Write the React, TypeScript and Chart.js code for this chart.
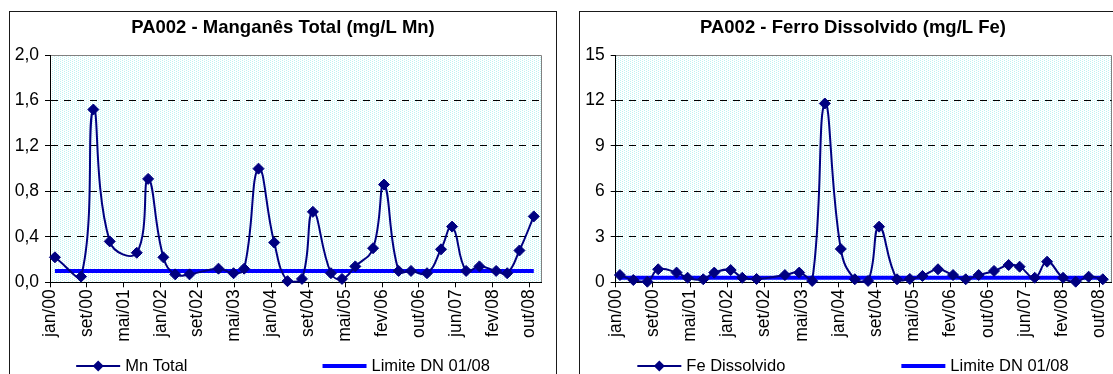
import React, { useEffect, useRef } from "react";
import { Chart, registerables } from "chart.js";

Chart.register(...registerables);

// ---------- data ----------
const X_TICK_LABELS = [
  "jan/00", "set/00", "mai/01", "jan/02", "set/02", "mai/03", "jan/04",
  "set/04", "mai/05", "fev/06", "out/06", "jun/07", "fev/08", "out/08",
];
const X_AXIS_START = "2000-01-01";
const X_TICK_STEP_DAYS = 247;
const X_AXIS_END_DAYS = 3292;

const MN_TITLE = "PA002 - Manganês Total (mg/L Mn)";
const MN_LABEL = "Mn Total";
const MN_DATES = [
  "2000-02-03", "2000-07-27", "2000-10-17", "2001-02-04", "2001-08-04", "2001-10-19",
  "2002-01-29", "2002-04-18", "2002-07-23", "2003-02-02", "2003-05-14", "2003-07-24",
  "2003-10-28", "2004-02-10", "2004-05-09", "2004-08-14", "2004-10-26", "2005-02-24",
  "2005-05-09", "2005-08-06", "2005-12-03", "2006-02-14", "2006-05-23", "2006-08-14",
  "2006-11-29", "2007-03-03", "2007-05-16", "2007-08-18", "2007-11-15", "2008-03-06",
  "2008-05-19", "2008-08-09", "2008-11-13",
];
const MN_VALUES = [
  0.22, 0.05, 1.52, 0.36, 0.26, 0.91, 0.22, 0.07, 0.07, 0.12, 0.08, 0.12,
  1.0, 0.35, 0.01, 0.03, 0.62, 0.08, 0.03, 0.14, 0.3, 0.86, 0.1, 0.1,
  0.08, 0.29, 0.49, 0.1, 0.14, 0.1, 0.08, 0.28, 0.58,
];
const MN_LIMIT = 0.1;
const MN_Y_MAX = 2;
const MN_Y_STEP = 0.4;

const FE_TITLE = "PA002 - Ferro Dissolvido (mg/L Fe)";
const FE_LABEL = "Fe Dissolvido";
const FE_DATES = [
  "2000-01-29", "2000-04-27", "2000-07-29", "2000-10-09", "2001-02-08", "2001-04-22",
  "2001-08-04", "2001-10-16", "2002-02-02", "2002-04-20", "2002-07-24", "2003-01-28",
  "2003-05-03", "2003-07-28", "2003-10-20", "2004-02-03", "2004-05-06", "2004-08-02",
  "2004-10-14", "2005-02-10", "2005-05-06", "2005-07-29", "2005-11-09", "2006-02-17",
  "2006-05-12", "2006-08-06", "2006-11-16", "2007-02-21", "2007-05-05", "2007-08-13",
  "2007-11-03", "2008-02-17", "2008-05-11", "2008-08-05", "2008-11-07",
];
const FE_VALUES = [
  0.48, 0.15, 0.04, 0.86, 0.64, 0.3, 0.2, 0.64, 0.81, 0.3, 0.22, 0.48,
  0.64, 0.09, 11.8, 2.2, 0.2, 0.09, 3.67, 0.2, 0.22, 0.42, 0.86, 0.48,
  0.2, 0.48, 0.75, 1.14, 1.03, 0.3, 1.36, 0.3, 0.04, 0.37, 0.2,
];
const FE_LIMIT = 0.3;
const FE_Y_MAX = 15;
const FE_Y_STEP = 3;

const LIMIT_LABEL = "Limite DN 01/08";

// ---------- style ----------
const FONT = "'Liberation Sans', Arial, Helvetica, sans-serif";
const SERIES_COLOR = "#000080";
const LIMIT_COLOR = "#0000ff";
const CANVAS_W = 546;
const CANVAS_H = 362;
const PLOT_RIGHT_GAP = 14.3;
const LEGEND_BAND = 30;
const PLOT_BOTTOM = 270.3;

const dayOf = (d: string) =>
  (Date.parse(d + "T00:00:00Z") - Date.parse(X_AXIS_START + "T00:00:00Z")) / 86400000;

function makePattern(ctx: CanvasRenderingContext2D) {
  const c = document.createElement("canvas");
  c.width = 4;
  c.height = 4;
  const p = c.getContext("2d")!;
  p.fillStyle = "#ffffff";
  p.fillRect(0, 0, 4, 4);
  p.fillStyle = "#bff3f3";
  p.fillRect(0, 0, 1, 1);
  p.fillRect(2, 1, 1, 1);
  p.fillRect(0, 2, 1, 1);
  p.fillRect(2, 3, 1, 1);
  return ctx.createPattern(c, "repeat");
}

const plotAreaPlugin = {
  id: "plotArea",
  beforeDraw(chart: any) {
    const { ctx, chartArea: a } = chart;
    ctx.save();
    ctx.fillStyle = makePattern(ctx) || "#effcfc";
    ctx.fillRect(a.left, a.top, a.right - a.left, a.bottom - a.top);
    ctx.strokeStyle = "#808080";
    ctx.lineWidth = 1;
    ctx.beginPath();
    ctx.moveTo(a.left, Math.round(a.top) + 0.5);
    ctx.lineTo(Math.round(a.right) - 0.5, Math.round(a.top) + 0.5);
    ctx.lineTo(Math.round(a.right) - 0.5, a.bottom);
    ctx.stroke();
    ctx.restore();
  },
};

const legendPlugin = {
  id: "excelLegend",
  afterDraw(chart: any, _args: any, opts: any) {
    const { ctx } = chart;
    const ds = chart.data.datasets;
    ctx.save();
    ctx.font = `16.5px ${FONT}`;
    const lineLen = 44;
    const textGap = 5;
    const widths = ds.map((d: any) => lineLen + textGap + ctx.measureText(d.label).width);
    const total = widths.reduce((s: number, w: number) => s + w, 0) + opts.gap * (ds.length - 1);
    let x = (chart.width - total) / 2;
    const y = opts.y;
    ds.forEach((d: any, i: number) => {
      ctx.strokeStyle = d.borderColor;
      ctx.lineWidth = d.borderWidth;
      ctx.beginPath();
      ctx.moveTo(x, y);
      ctx.lineTo(x + lineLen, y);
      ctx.stroke();
      if (d.pointRadius > 0) {
        const cx = x + lineLen / 2;
        const r = d.pointRadius;
        ctx.fillStyle = d.pointBackgroundColor;
        ctx.beginPath();
        ctx.moveTo(cx, y - r);
        ctx.lineTo(cx + r, y);
        ctx.lineTo(cx, y + r);
        ctx.lineTo(cx - r, y);
        ctx.closePath();
        ctx.fill();
      }
      ctx.fillStyle = "#000";
      ctx.textBaseline = "middle";
      ctx.textAlign = "left";
      ctx.fillText(d.label, x + lineLen + textGap, y);
      x += widths[i] + opts.gap;
    });
    ctx.restore();
  },
};

type Spec = {
  title: string;
  label: string;
  dates: string[];
  values: number[];
  limit: number;
  yMax: number;
  yStep: number;
  yFmt: (v: number) => string;
  yAxisWidth: number;
  legendGap: number;
};

function buildConfig(s: Spec): any {
  const pts = s.dates.map((d, i) => ({ x: dayOf(d), y: s.values[i] }));
  const first = pts[0].x;
  const last = pts[pts.length - 1].x;
  const tickFont = { family: FONT, size: 17.5 };
  return {
    type: "line",
    data: {
      datasets: [
        {
          label: s.label,
          data: pts,
          borderColor: SERIES_COLOR,
          backgroundColor: SERIES_COLOR,
          borderWidth: 2,
          tension: 0.45,
          pointStyle: "rectRot",
          pointRadius: 5.5,
          pointBackgroundColor: SERIES_COLOR,
          pointBorderColor: SERIES_COLOR,
          pointBorderWidth: 1,
          clip: false,
          order: 1,
        },
        {
          label: LIMIT_LABEL,
          data: [
            { x: first, y: s.limit },
            { x: last, y: s.limit },
          ],
          borderColor: LIMIT_COLOR,
          backgroundColor: LIMIT_COLOR,
          borderWidth: 4,
          pointRadius: 0,
          tension: 0,
          clip: false,
          order: 2,
        },
      ],
    },
    options: {
      responsive: false,
      animation: false,
      events: [],
      layout: { padding: { left: 0, right: 0, top: 0, bottom: LEGEND_BAND } },
      plugins: {
        legend: { display: false },
        tooltip: { enabled: false },
        title: {
          display: true,
          text: s.title,
          color: "#000",
          font: { family: FONT, size: 18.5, weight: "bold", lineHeight: 1.2 },
          padding: { top: 4.9, bottom: 15.9 },
        },
        excelLegend: { gap: s.legendGap, y: 354 },
      },
      scales: {
        x: {
          type: "linear",
          min: 0,
          max: X_AXIS_END_DAYS,
          afterBuildTicks: (sc: any) => {
            sc.ticks = X_TICK_LABELS.map((_, i) => ({ value: i * X_TICK_STEP_DAYS }));
          },
          afterFit: (sc: any) => {
            sc.height = CANVAS_H - LEGEND_BAND - PLOT_BOTTOM;
          },
          ticks: {
            autoSkip: false,
            minRotation: 90,
            maxRotation: 90,
            padding: 2,
            color: "#000",
            font: tickFont,
            callback: (v: number) => X_TICK_LABELS[Math.round(v / X_TICK_STEP_DAYS)] ?? "",
          },
          grid: {
            drawOnChartArea: false,
            tickLength: 5,
            tickColor: "#000",
            color: "#000",
            lineWidth: 1,
          },
          border: { display: true, color: "#000", width: 1 },
        },
        y: {
          type: "linear",
          position: "left",
          min: 0,
          max: s.yMax,
          afterFit: (sc: any) => {
            sc.width = s.yAxisWidth;
          },
          ticks: {
            stepSize: s.yStep,
            padding: 6,
            color: "#000",
            font: tickFont,
            callback: (v: number) => s.yFmt(v),
          },
          grid: {
            color: (c: any) =>
              c.tick && (Math.abs(c.tick.value) < 1e-9 || c.tick.value >= s.yMax - 1e-9)
                ? "rgba(0,0,0,0)"
                : "#000",
            lineWidth: 1,
            tickLength: 5,
            tickColor: "#000",
            tickWidth: 1,
            tickBorderDash: [],
          },
          border: { display: true, color: "#000", width: 1, dash: [7, 6] },
        },
        // empty spacer on the right so the title stays centred on the whole box
        spacer: {
          type: "linear",
          position: "right",
          display: true,
          min: 0,
          max: 1,
          ticks: { display: false },
          grid: { display: false, drawOnChartArea: false, drawTicks: false },
          border: { display: false },
          afterFit: (sc: any) => {
            sc.width = PLOT_RIGHT_GAP;
          },
        },
      },
    },
    plugins: [plotAreaPlugin, legendPlugin],
  };
}

function ChartBox({ left, spec }: { left: number; spec: Spec }) {
  const ref = useRef<HTMLCanvasElement>(null);
  useEffect(() => {
    const chart = new Chart(ref.current!, buildConfig(spec));
    return () => chart.destroy();
  }, []);
  return (
    <div
      style={{
        position: "absolute",
        left,
        top: 11,
        width: CANVAS_W,
        height: 400,
        border: "1px solid #1a1a1a",
        background: "#fff",
      }}
    >
      <canvas
        ref={ref}
        width={CANVAS_W}
        height={CANVAS_H}
        style={{ display: "block", width: CANVAS_W, height: CANVAS_H }}
      />
    </div>
  );
}

const MN_SPEC: Spec = {
  title: MN_TITLE,
  label: MN_LABEL,
  dates: MN_DATES,
  values: MN_VALUES,
  limit: MN_LIMIT,
  yMax: MN_Y_MAX,
  yStep: MN_Y_STEP,
  yFmt: (v) => Number(v).toFixed(1).replace(".", ","),
  yAxisWidth: 40,
  legendGap: 135,
};

const FE_SPEC: Spec = {
  title: FE_TITLE,
  label: FE_LABEL,
  dates: FE_DATES,
  values: FE_VALUES,
  limit: FE_LIMIT,
  yMax: FE_Y_MAX,
  yStep: FE_Y_STEP,
  yFmt: (v) => String(Math.round(v)),
  yAxisWidth: 35.7,
  legendGap: 116,
};

export default function App() {
  return (
    <div
      style={{
        position: "absolute",
        left: 0,
        top: 0,
        width: 1113,
        height: 374,
        overflow: "hidden",
        background: "#fff",
      }}
    >
      <ChartBox left={9} spec={MN_SPEC} />
      <ChartBox left={579} spec={FE_SPEC} />
    </div>
  );
}
